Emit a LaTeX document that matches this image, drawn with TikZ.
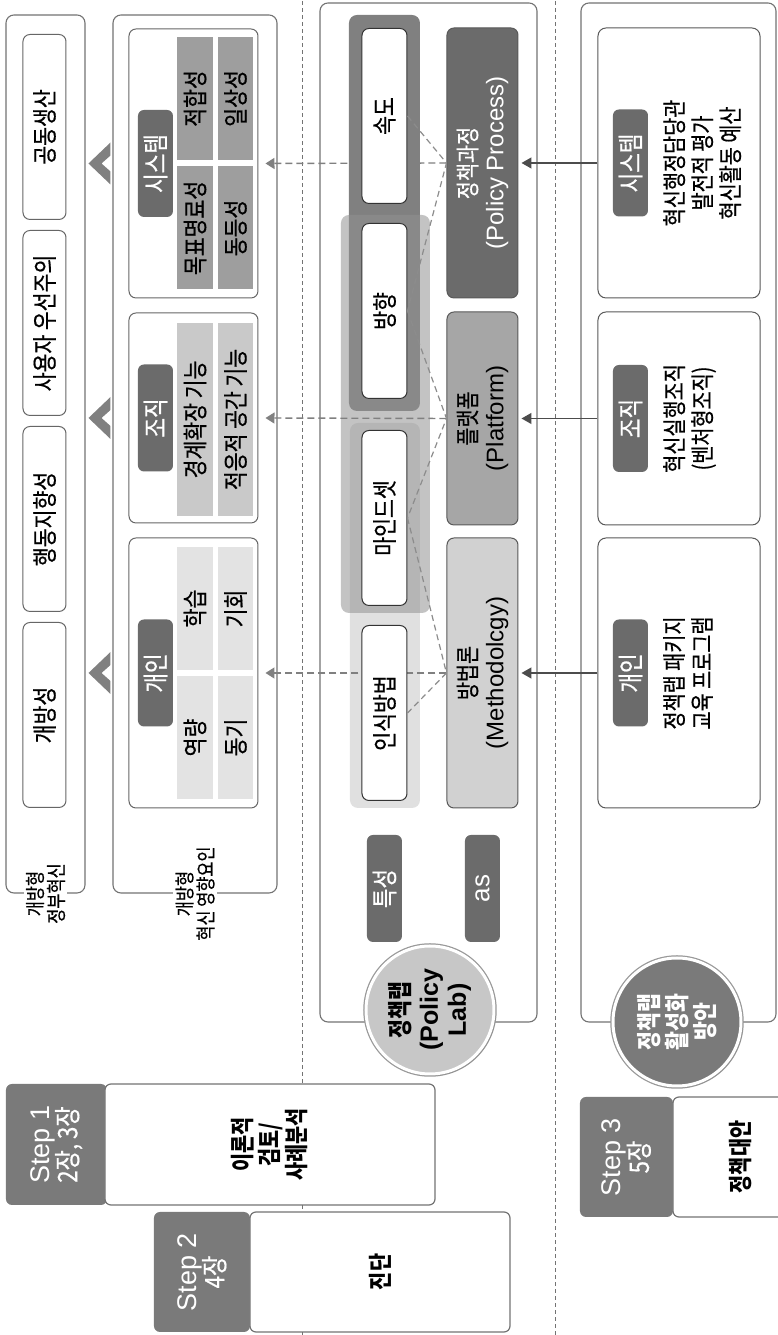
\documentclass[tikz,border=0pt]{standalone}
\usepackage{fontspec}
\setmainfont[FakeStretch=0.82,UprightFeatures={FakeBold=0.5}]{Noto Sans CJK KR}
\newfontfamily\lat{Liberation Sans}
\usetikzlibrary{arrows.meta,positioning,shadows}

\begin{document}
\begin{tikzpicture}[x=1pt,y=1pt,
  outer/.style={draw=black!55,line width=1.1pt,rounded corners=8pt,fill=white},
  lbl/.style={fill=white,inner sep=2pt,align=center,font=\fontsize{20}{21}\selectfont},
  val/.style={draw=black!60,line width=1pt,rounded corners=7pt,fill=white,minimum width=185pt,minimum height=43pt,inner sep=0pt,font=\fontsize{25}{27}\selectfont},
  grp/.style={draw=black!60,line width=1pt,rounded corners=7pt,fill=white,minimum height=129pt},
  badge/.style={fill=black!58,rounded corners=6pt,text=white,minimum width=107pt,minimum height=35pt,inner sep=0pt,font=\fontsize{26}{26}\selectfont},
  cell/.style={minimum height=35.5pt,inner sep=0pt,font=\fontsize{25}{25}\selectfont},
  chip/.style={draw=black!80,line width=1pt,fill=white,rounded corners=7pt,minimum width=175pt,minimum height=45pt,inner sep=0pt,font=\fontsize{25}{25}\selectfont},
  frame/.style={rounded corners=8pt,inner sep=0pt},
  pbox/.style={draw=black!65,line width=1pt,rounded corners=7pt,minimum height=71pt,align=center,inner sep=0pt,font=\fontsize{24}{27}\selectfont},
  plan/.style={draw=black!65,line width=1pt,rounded corners=8pt,fill=white,minimum height=162pt},
  plantxt/.style={anchor=north,align=center,inner sep=0pt,font=\fontsize{24}{28}\selectfont},
  tab/.style={fill=black!52,rounded corners=6pt,text=white,align=center,inner sep=0pt,font=\fontsize{27}{28}\selectfont},
  body/.style={draw=black!55,line width=1.2pt,fill=white,rounded corners=6pt,align=center,inner sep=0pt,font=\fontsize{24}{27}\selectfont\bfseries},
  seal/.style={circle,draw=white,line width=3pt,minimum size=128pt,align=center,inner sep=0pt,
    preaction={draw=black!40,line width=5.5pt},drop shadow={opacity=0.25,shadow xshift=2pt,shadow yshift=-2pt},
    font=\fontsize{25}{28}\selectfont\bfseries},
  divider/.style={draw=black!55,line width=0.8pt,dash pattern=on 4pt off 3pt},
  dasharr/.style={draw=black!50,line width=1.4pt,dash pattern=on 7pt off 4pt,-{Triangle[length=9pt,width=11pt]},shorten >=7pt},
  conn/.style={draw=black!45,line width=1.2pt,dash pattern=on 6pt off 4pt},
  solarr/.style={draw=black!70,line width=1.4pt,-{Triangle[length=10pt,width=11pt]},shorten >=3pt},
  chev/.style={fill=black!50}]
\begin{scope}[rotate=90,transform shape]
\useasboundingbox (0,0) rectangle (1335,777);
% dividers
\coordinate (d1w) at (0,475); \coordinate (d1e) at (1335,475);
\coordinate (d2w) at (0,222); \coordinate (d2e) at (1335,222);
\draw[divider] (d1w) -- (d1e);
\draw[divider] (d2w) -- (d2e);

% row 1: open government innovation
\node[outer,minimum width=878pt,minimum height=79pt] (row1) at (881,731.5) {};
\node[lbl] (row1lbl) at (row1.west) {개방형\\정부혁신};
\node[val] (opn) at (620,732.5) {개방성};
\node[val,right=10pt of opn] (act) {행동지향성};
\node[val,right=10pt of act] (usr) {사용자 우선주의};
\node[val,right=10pt of usr] (cop) {공동생산};

% row 2: factors
\node[outer,minimum width=878pt,minimum height=164pt] (row2) at (881,582) {};
\node[lbl] (row2lbl) at (row2.west) {개방형\\혁신 영향요인};
\node[grp,minimum width=270pt] (indgrp) at (662,583.5) {};
\node[grp,minimum width=210pt] (orggrp) at (917,583.5) {};
\node[grp,minimum width=269pt] (sysgrp) at (1171.5,583.5) {};
\node[badge] (indbdg) at (662,621.5) {개인};
\node[badge] (orgbdg) at (917,621.5) {조직};
\node[badge] (sysbdg) at (1171.5,621.5) {시스템};
\node[cell,fill=black!38,minimum width=123pt] (goal) at (1107,582) {목표명료성};
\node[cell,fill=black!38,minimum width=123pt] (fitn) at (1236.5,582) {적합성};
\node[cell,fill=black!38,minimum width=123pt] (equ) at (1107,541.5) {동등성};
\node[cell,fill=black!38,minimum width=123pt] (daily) at (1236.5,541.5) {일상성};
\node[cell,fill=black!21,minimum width=193pt] (bound) at (915.5,582) {경계확장 기능};
\node[cell,fill=black!21,minimum width=193pt] (adapt) at (915.5,541.5) {적응적 공간 기능};
\node[cell,fill=black!11,minimum width=123pt] (comp) at (597.5,582) {역량};
\node[cell,fill=black!11,minimum width=123pt] (learn) at (726.5,582) {학습};
\node[cell,fill=black!11,minimum width=123pt] (motiv) at (597.5,541.5) {동기};
\node[cell,fill=black!11,minimum width=123pt] (oppo) at (726.5,541.5) {기회};
\foreach \g in {indgrp,orggrp,sysgrp}
  \fill[chev] (\g.north) ++(0,40) -- ++(21,-22) -- ++(-13,0) -- ++(-8,9) -- ++(-8,-9) -- ++(-13,0) -- cycle;

% row 3: policy lab
\node[outer,minimum width=1019pt,minimum height=217pt] (row3) at (822.5,348.5) {};
\node[badge] (trait) at (446.5,392.5) {특성};
\node[badge] (asbdg) at (446.5,294.5) {\lat as};
\node[frame,fill=black!12,minimum width=385pt,minimum height=70pt] (frC) at (719.5,392) {};
\node[frame,fill=black!50,minimum width=396pt,minimum height=71pt] (frA) at (1122,392.5) {};
\node[frame,fill=black!43,fill opacity=0.54,minimum width=398pt,minimum height=89pt] (frB) at (921,391.5) {};
\node[pbox,fill=black!58,text=white,minimum width=270pt] (pp) at (1172,294.5) {정책과정\\{\lat (Policy Process)}};
\node[pbox,fill=black!35,minimum width=213pt] (plat) at (916.5,294.5) {플랫폼\\{\lat (Platform)}};
\node[pbox,fill=black!18,minimum width=270pt] (meth) at (662,294.5) {방법론\\{\lat (Methodolcgy)}};
\draw[dasharr] (pp.north) -- (sysgrp.south);
\draw[dasharr] (plat.north) -- (orggrp.south);
\draw[dasharr] (meth.north) -- (indgrp.south);
\node[chip] (speed) at (1219,392.5) {속도};
\node[chip] (dir) at (1024,392.5) {방향};
\node[chip] (mind) at (817,392.5) {마인드셋};
\node[chip] (cog) at (622,392.5) {인식방법};
\draw[conn] (speed.south) -- (pp.north) -- (dir.south);
\draw[conn] (dir.south) -- (plat.north) -- (mind.south);
\draw[conn] (mind.south) -- (meth.north) -- (cog.south);
\node[seal,fill=black!22] (lab) at (325,347) {정책랩\\{\lat\bfseries (Policy}\\{\lat\bfseries Lab)}};

% row 4: activation plan
\node[outer,minimum width=1019pt,minimum height=195pt] (row4) at (822.5,98.5) {};
\node[plan,minimum width=270pt] (sysplan) at (1172,98) {};
\node[plan,minimum width=213pt] (orgplan) at (916.5,98) {};
\node[plan,minimum width=270pt] (indplan) at (662,98) {};
\node[badge] (sysbdg2) at (1172,146.5) {시스템};
\node[badge] (orgbdg2) at (916.5,146.5) {조직};
\node[badge] (indbdg2) at (662,146.5) {개인};
\node[plantxt] (systxt) at (1172,114) {혁신행정담당관\\발전적 평가\\혁신활동 예산};
\node[plantxt] (orgtxt) at (916.5,114) {혁신실행조직\\(벤처형조직)};
\node[plantxt] (indtxt) at (662,114) {정책랩 패키지\\교육 프로그램};
\draw[solarr] (sysplan.north) -- (pp.south);
\draw[solarr] (orgplan.north) -- (plat.south);
\draw[solarr] (indplan.north) -- (meth.south);
\node[seal,fill=black!52,text=white] (boost) at (313,100) {정책랩\\활성화\\방안};

% steps
\node[tab,minimum width=121pt,minimum height=101pt] (s1tab) at (190.5,720.5) {{\lat Step 1}\\2장, 3장};
\node[body,minimum width=121pt,minimum height=330pt] (s1body) at (190.5,507) {이론적\\검토/\\사례분석};
\node[tab,minimum width=120pt,minimum height=96pt] (s2tab) at (63,575) {{\lat Step 2}\\4장};
\node[body,minimum width=120pt,minimum height=260pt] (s2body) at (63,397) {진단};
\node[tab,minimum width=120pt,minimum height=93pt] (s3tab) at (178,150.5) {{\lat Step 3}\\5장};
\node[body,minimum width=120pt,minimum height=136pt] (s3body) at (178,36) {정책대안};
\end{scope}
\end{tikzpicture}
\end{document}
